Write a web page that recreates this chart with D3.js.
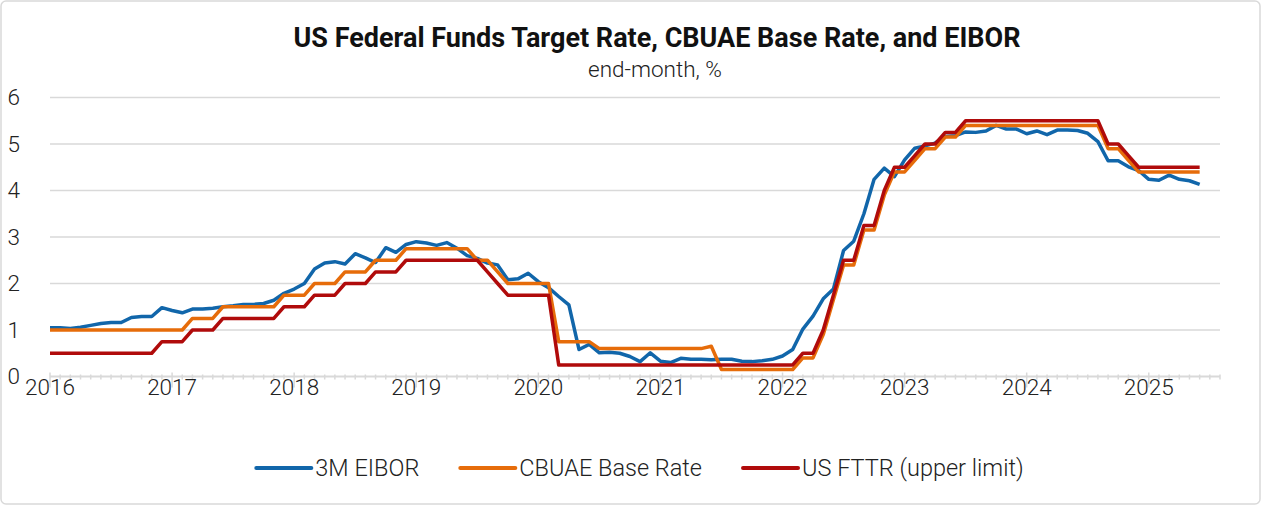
<!DOCTYPE html>
<html>
<head>
<meta charset="utf-8">
<script src="https://cdn.jsdelivr.net/npm/d3@7"></script>
<style>
  body { margin: 0; background: #fff; }
  svg { display: block; font-family: Roboto, "Noto Sans", sans-serif; }
</style>
</head>
<body>
<div id="chart"></div>
<script>
// end-month values, Jan 2016 .. Jun 2025
const yearLabels = ['2016', '2017', '2018', '2019', '2020', '2021', '2022', '2023', '2024', '2025'];
const yTicks = [0, 1, 2, 3, 4, 5, 6];

const eibor = [
  1.05, 1.05, 1.03, 1.06, 1.10, 1.14, 1.16, 1.16, 1.27, 1.29, 1.29, 1.48,
  1.42, 1.37, 1.45, 1.45, 1.47, 1.50, 1.52, 1.55, 1.55, 1.57, 1.64, 1.79,
  1.88, 2.00, 2.31, 2.44, 2.47, 2.42, 2.64, 2.55, 2.45, 2.77, 2.67, 2.84,
  2.90, 2.87, 2.82, 2.88, 2.76, 2.60, 2.54, 2.44, 2.40, 2.08, 2.10, 2.22,
  2.04, 1.91, 1.72, 1.54, 0.58, 0.69, 0.51, 0.52, 0.50, 0.43, 0.32, 0.51,
  0.33, 0.30, 0.39, 0.37, 0.37, 0.36, 0.37, 0.37, 0.33, 0.32, 0.34, 0.37,
  0.44, 0.58, 1.02, 1.30, 1.67, 1.88, 2.71, 2.91, 3.50, 4.24, 4.48, 4.30,
  4.66, 4.91, 4.96, 5.02, 5.16, 5.18, 5.26, 5.25, 5.28, 5.40, 5.32, 5.32,
  5.22, 5.28, 5.20, 5.30, 5.30, 5.29, 5.23, 5.05, 4.64, 4.64, 4.51, 4.43,
  4.24, 4.22, 4.33, 4.24, 4.21, 4.13
];

const cbuae = [
  1.00, 1.00, 1.00, 1.00, 1.00, 1.00, 1.00, 1.00, 1.00, 1.00, 1.00, 1.00,
  1.00, 1.00, 1.25, 1.25, 1.25, 1.50, 1.50, 1.50, 1.50, 1.50, 1.50, 1.75,
  1.75, 1.75, 2.00, 2.00, 2.00, 2.25, 2.25, 2.25, 2.50, 2.50, 2.50, 2.75,
  2.75, 2.75, 2.75, 2.75, 2.75, 2.75, 2.50, 2.50, 2.25, 2.00, 2.00, 2.00,
  2.00, 2.00, 0.75, 0.75, 0.75, 0.75, 0.60, 0.60, 0.60, 0.60, 0.60, 0.60,
  0.60, 0.60, 0.60, 0.60, 0.60, 0.65, 0.15, 0.15, 0.15, 0.15, 0.15, 0.15,
  0.15, 0.15, 0.40, 0.40, 0.90, 1.65, 2.40, 2.40, 3.15, 3.15, 3.90, 4.40,
  4.40, 4.65, 4.90, 4.90, 5.15, 5.15, 5.40, 5.40, 5.40, 5.40, 5.40, 5.40,
  5.40, 5.40, 5.40, 5.40, 5.40, 5.40, 5.40, 5.40, 4.90, 4.90, 4.65, 4.40,
  4.40, 4.40, 4.40, 4.40, 4.40, 4.40
];

const fttr = [
  0.50, 0.50, 0.50, 0.50, 0.50, 0.50, 0.50, 0.50, 0.50, 0.50, 0.50, 0.75,
  0.75, 0.75, 1.00, 1.00, 1.00, 1.25, 1.25, 1.25, 1.25, 1.25, 1.25, 1.50,
  1.50, 1.50, 1.75, 1.75, 1.75, 2.00, 2.00, 2.00, 2.25, 2.25, 2.25, 2.50,
  2.50, 2.50, 2.50, 2.50, 2.50, 2.50, 2.50, 2.25, 2.00, 1.75, 1.75, 1.75,
  1.75, 1.75, 0.25, 0.25, 0.25, 0.25, 0.25, 0.25, 0.25, 0.25, 0.25, 0.25,
  0.25, 0.25, 0.25, 0.25, 0.25, 0.25, 0.25, 0.25, 0.25, 0.25, 0.25, 0.25,
  0.25, 0.25, 0.50, 0.50, 1.00, 1.75, 2.50, 2.50, 3.25, 3.25, 4.00, 4.50,
  4.50, 4.75, 5.00, 5.00, 5.25, 5.25, 5.50, 5.50, 5.50, 5.50, 5.50, 5.50,
  5.50, 5.50, 5.50, 5.50, 5.50, 5.50, 5.50, 5.50, 5.00, 5.00, 4.75, 4.50,
  4.50, 4.50, 4.50, 4.50, 4.50, 4.50
];

const seriesNames = ['3M EIBOR', 'CBUAE Base Rate', 'US FTTR (upper limit)'];
const seriesColors = ['#1166aa', '#e66c0a', '#b00b0b'];

const width = 1265;
const height = 507;

const svg = d3.select('#chart')
  .append('svg')
  .attr('width', width)
  .attr('height', height);

// outer frame
svg.append('rect')
  .attr('x', 1).attr('y', 1)
  .attr('width', 1259).attr('height', 503)
  .attr('rx', 5)
  .attr('fill', '#fff')
  .attr('stroke', '#d9d9d9')
  .attr('stroke-width', 1.5);

// title
svg.append('text')
  .attr('x', 657).attr('y', 47)
  .attr('text-anchor', 'middle')
  .attr('font-size', 27)
  .attr('font-weight', 700)
  .attr('fill', '#111')
  .text('US Federal Funds Target Rate, CBUAE Base Rate, and EIBOR');

svg.append('text')
  .attr('x', 655).attr('y', 77)
  .attr('text-anchor', 'middle')
  .attr('font-size', 22.5)
  .attr('font-weight', 300)
  .attr('fill', '#222')
  .text('end-month, %');

// month index scale, axis runs a bit past the last point
const x = d3.scaleLinear()
  .domain([0, 115])
  .range([50, 1220]);

const y = d3.scaleLinear()
  .domain([0, 6])
  .range([376.5, 97.5]);

// gridlines
svg.append('g')
  .selectAll('line')
  .data(yTicks.filter((d) => d > 0))
  .enter()
  .append('line')
  .attr('x1', x(0)).attr('x2', x(115))
  .attr('y1', (d) => y(d)).attr('y2', (d) => y(d))
  .attr('stroke', '#d9d9d9')
  .attr('stroke-width', 1.5);

// y labels
svg.append('g')
  .selectAll('text')
  .data(yTicks)
  .enter()
  .append('text')
  .attr('x', 20)
  .attr('y', (d) => y(d))
  .attr('dy', '0.35em')
  .attr('text-anchor', 'end')
  .attr('font-size', 22.5)
  .attr('font-weight', 300)
  .attr('fill', '#222')
  .text((d) => d);

// x axis line + month ticks
const axisG = svg.append('g');
axisG.append('line')
  .attr('x1', x(0)).attr('x2', x(115))
  .attr('y1', y(0)).attr('y2', y(0))
  .attr('stroke', '#d9d9d9')
  .attr('stroke-width', 2);

axisG.selectAll('.minor')
  .data(d3.range(0, 116))
  .enter()
  .append('line')
  .attr('class', 'minor')
  .attr('x1', (d) => x(d)).attr('x2', (d) => x(d))
  .attr('y1', (d) => d % 12 === 0 ? y(0) - 4 : y(0) - 2)
  .attr('y2', (d) => d % 12 === 0 ? y(0) + 11 : y(0) + 3)
  .attr('stroke', '#d9d9d9')
  .attr('stroke-width', 1.5);

axisG.selectAll('.year')
  .data(yearLabels)
  .enter()
  .append('text')
  .attr('class', 'year')
  .attr('x', (d, i) => x(i * 12))
  .attr('y', 395)
  .attr('text-anchor', 'middle')
  .attr('font-size', 22.5)
  .attr('font-weight', 300)
  .attr('fill', '#222')
  .text((d) => d);

// series lines
const line = d3.line()
  .x((d, i) => x(i))
  .y((d) => y(d));

[eibor, cbuae, fttr].forEach((values, k) => {
  svg.append('path')
    .datum(values)
    .attr('d', line)
    .attr('fill', 'none')
    .attr('stroke', seriesColors[k])
    .attr('stroke-width', 3.5)
    .attr('stroke-linejoin', 'round');
});

// legend, centred under the plot
const legend = svg.append('g');
const sampleLen = 55;
let lx = 0;
seriesNames.forEach((name, k) => {
  const item = legend.append('g').attr('transform', `translate(${lx},0)`);
  item.append('line')
    .attr('x1', 0).attr('x2', sampleLen)
    .attr('y1', 468).attr('y2', 468)
    .attr('stroke', seriesColors[k])
    .attr('stroke-width', 4)
    .attr('stroke-linecap', 'round');
  const t = item.append('text')
    .attr('x', sampleLen + 4)
    .attr('y', 468)
    .attr('dy', '0.35em')
    .attr('font-size', 23.5)
    .attr('font-weight', 300)
    .attr('fill', '#222')
    .text(name);
  lx += sampleLen + 4 + t.node().getComputedTextLength() + 41;
});
const legendW = lx - 41;
legend.attr('transform', `translate(${640 - legendW / 2},0)`);
</script>
</body>
</html>
